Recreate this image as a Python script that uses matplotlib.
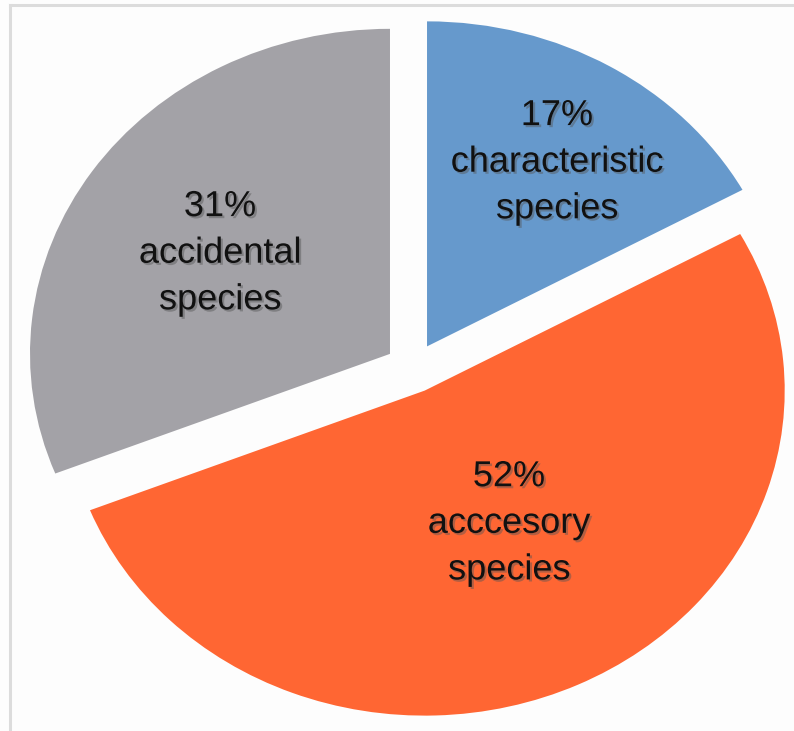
import matplotlib
matplotlib.use("Agg")
import matplotlib.pyplot as plt
import matplotlib.patheffects as pe
from matplotlib.lines import Line2D

# data
categories = ["characteristic\nspecies", "acccesory\nspecies", "accidental\nspecies"]
values = [17, 52, 31]
colors = ["#6699CC", "#FF6633", "#A3A2A7"]

# layout: label centres (data coords), explode
label_pos = [(0.400, 0.633), (0.267, -0.478), (-0.536, 0.353)]
explode = [0.077, 0.077, 0.077]

fig = plt.figure(figsize=(7.94, 7.31), dpi=100, facecolor="#FDFDFD")
ax = fig.add_axes([0, 0, 1, 1])
ax.set_facecolor("#FDFDFD")

wedges, _ = ax.pie(values, colors=colors, startangle=90, counterclock=False,
                   explode=explode, wedgeprops=dict(linewidth=0))
ax.set_aspect("auto")
ax.set_xlim(-1.147, 1.0586)
ax.set_ylim(-1.117, 1.132)
ax.axis("off")

shadow = [pe.SimplePatchShadow(offset=(1.5, -1.5), shadow_rgbFace="#555555", alpha=0.45),
          pe.Normal()]
for val, cat, (x, y) in zip(values, categories, label_pos):
    ax.text(x, y, f"{val}%\n{cat}", ha="center", va="center", fontsize=26,
            family=["Liberation Sans", "DejaVu Sans"], color="#111111",
            linespacing=1.43, path_effects=shadow)

# partial frame (left and top edges)
fig.add_artist(Line2D([9.5 / 794, 9.5 / 794], [0, 1 - 4.5 / 731], transform=fig.transFigure,
                      color="#DCDCDC", linewidth=2.2))
fig.add_artist(Line2D([9.5 / 794, 1], [1 - 4.5 / 731, 1 - 4.5 / 731], transform=fig.transFigure,
                      color="#DCDCDC", linewidth=2.2))

fig.savefig("out.png", dpi=100, facecolor=fig.get_facecolor())
